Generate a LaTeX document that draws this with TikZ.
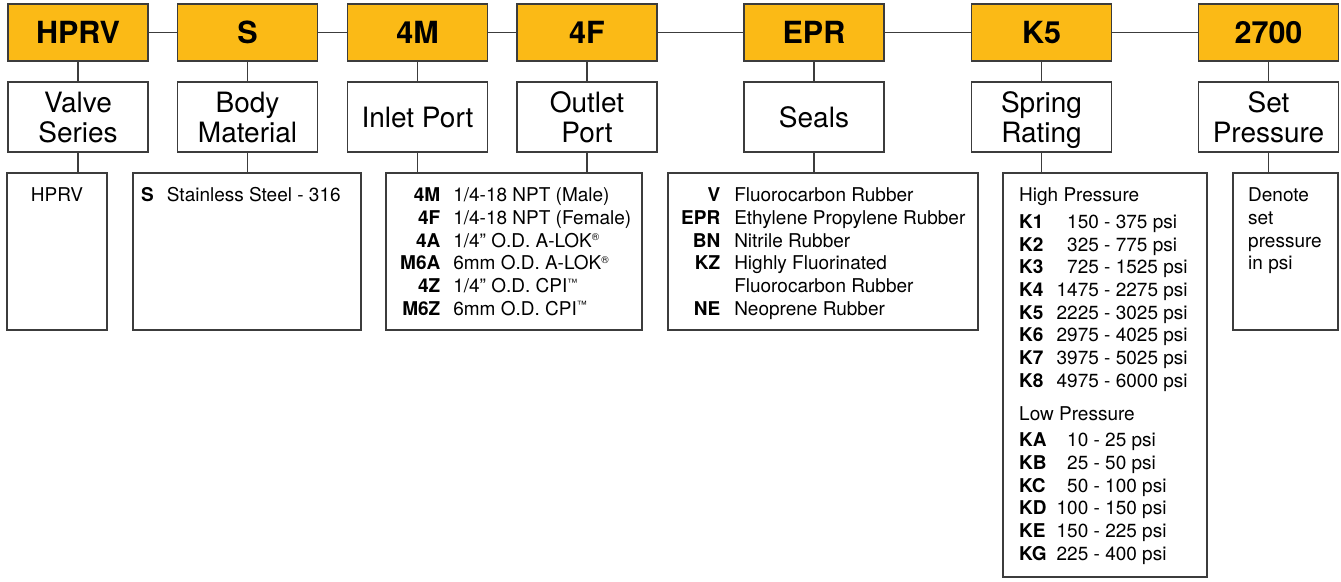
\documentclass[tikz,border=0pt]{standalone}
\usepackage{fontspec}
\setmainfont{TeX Gyre Heros}
\definecolor{partgold}{RGB}{251,186,22}
\definecolor{edgegray}{RGB}{60,60,60}
\newcommand{\tinymark}[1]{\raisebox{6.5pt}{\fontsize{10}{10}\selectfont#1}}

\begin{document}
\begin{tikzpicture}[x=1pt, y=-1pt,
                codebox/.style={draw=edgegray, line width=1.1pt, fill=partgold, minimum width=140pt, minimum height=57pt, inner sep=0pt, font=\fontsize{30.5}{31}\selectfont\bfseries},
                namebox/.style={draw=edgegray, line width=1.1pt, fill=white, minimum width=140pt, minimum height=70pt, inner sep=0pt, align=center, text depth=0pt, font=\fontsize{28}{30}\selectfont},
                listbox/.style={draw=edgegray, line width=1.1pt, inner sep=0pt},
                listtext/.style={inner sep=0pt, anchor=base west, font=\fontsize{19}{22.7}\selectfont},
                link/.style={draw=edgegray, line width=1.1pt}]
                \useasboundingbox (0,0) rectangle (1341,581);

                \node[codebox] (hprv) at (78,32.5) {HPRV};
                \node[codebox] (s) at (247.5,32.5) {S};
                \node[codebox] (inm) at (417.5,32.5) {4M};
                \node[codebox] (outf) at (587,32.5) {4F};
                \node[codebox] (epr) at (814,32.5) {EPR};
                \node[codebox] (k5) at (1041.5,32.5) {K5};
                \node[codebox] (setp) at (1268.5,32.5) {2700};

                \node[namebox] (series) at (78,117) {Valve\\Series};
                \node[namebox] (material) at (247.5,117) {Body\\Material};
                \node[namebox] (inlet) at (417.5,117) {Inlet Port};
                \node[namebox] (outlet) at (587,117) {Outlet\\Port};
                \node[namebox] (seals) at (814,117) {Seals};
                \node[namebox] (spring) at (1041.5,117) {Spring\\Rating};
                \node[namebox] (pressure) at (1268.5,117) {Set\\Pressure};

                \node[listbox, minimum width=100pt, minimum height=157pt] (serieslist) at (57,251.5) {};
                \node[listbox, minimum width=228pt, minimum height=157pt] (materiallist) at (247,251.5) {};
                \node[listbox, minimum width=256pt, minimum height=157pt] (portlist) at (514,251.5) {};
                \node[listbox, minimum width=310pt, minimum height=157pt] (seallist) at (823,251.5) {};
                \node[listbox, minimum width=204pt, minimum height=404pt] (springlist) at (1105,375) {};
                \node[listbox, minimum width=105pt, minimum height=157pt] (pressurelist) at (1285.5,251.5) {};

                \node[listtext, anchor=base] (seriestext) at (57,201.7) {HPRV};
                \node[listtext] (materialtext) at (141,201.7) {\begin{tabular}[t]{@{}r@{\hspace{13pt}}l@{}}
                    \textbf{S} & Stainless Steel - 316
                \end{tabular}};
                \node[listtext] (porttext) at (400,201.7) {\begin{tabular}[t]{@{}r@{\hspace{13pt}}l@{}}
                    \textbf{4M} & 1/4-18 NPT (Male)\\
                    \textbf{4F} & 1/4-18 NPT (Female)\\
                    \textbf{4A} & 1/4” O.D. A-LOK\tinymark{®}\\
                    \textbf{M6A} & 6mm O.D. A-LOK\tinymark{®}\\
                    \textbf{4Z} & 1/4” O.D. CPI\tinymark{™}\\
                    \textbf{M6Z} & 6mm O.D. CPI\tinymark{™}
                \end{tabular}};
                \node[listtext] (sealtext) at (681,201.7) {\begin{tabular}[t]{@{}r@{\hspace{14pt}}l@{}}
                    \textbf{V} & Fluorocarbon Rubber\\
                    \textbf{EPR} & Ethylene Propylene Rubber\\
                    \textbf{BN} & Nitrile Rubber\\
                    \textbf{KZ} & Highly Fluorinated\\
                    & Fluorocarbon Rubber\\
                    \textbf{NE} & Neoprene Rubber
                \end{tabular}};
                \node[listtext] (springtext) at (1019,201.7) {\begin{tabular}[t]{@{}l@{\hspace{10pt}}l@{}}
                    \multicolumn{2}{@{}l@{}}{High Pressure}\\[4pt]
                    \textbf{K1} & \hphantom{0}150 - 375 psi\\
                    \textbf{K2} & \hphantom{0}325 - 775 psi\\
                    \textbf{K3} & \hphantom{0}725 - 1525 psi\\
                    \textbf{K4} & 1475 - 2275 psi\\
                    \textbf{K5} & 2225 - 3025 psi\\
                    \textbf{K6} & 2975 - 4025 psi\\
                    \textbf{K7} & 3975 - 5025 psi\\
                    \textbf{K8} & 4975 - 6000 psi\\[10pt]
                    \multicolumn{2}{@{}l@{}}{Low Pressure}\\[4pt]
                    \textbf{KA} & \hphantom{0}10 - 25 psi\\
                    \textbf{KB} & \hphantom{0}25 - 50 psi\\
                    \textbf{KC} & \hphantom{0}50 - 100 psi\\
                    \textbf{KD} & 100 - 150 psi\\
                    \textbf{KE} & 150 - 225 psi\\
                    \textbf{KG} & 225 - 400 psi
                \end{tabular}};
                \node[listtext] (pressuretext) at (1248,201.7) {\begin{tabular}[t]{@{}l@{}}
                    Denote\\
                    set\\
                    pressure\\
                    in psi
                \end{tabular}};

                \draw[link] (hprv) -- (s);
                \draw[link] (s) -- (inm);
                \draw[link] (inm) -- (outf);
                \draw[link] (outf) -- (epr);
                \draw[link] (epr) -- (k5);
                \draw[link] (k5) -- (setp);
                \draw[link] (hprv) -- (series);
                \draw[link] (s) -- (material);
                \draw[link] (inm) -- (inlet);
                \draw[link] (outf) -- (outlet);
                \draw[link] (epr) -- (seals);
                \draw[link] (k5) -- (spring);
                \draw[link] (setp) -- (pressure);
                \draw[link] (series) -- (series |- serieslist.north);
                \draw[link] (material) -- (material |- materiallist.north);
                \draw[link] (inlet) -- (inlet |- portlist.north);
                \draw[link] (outlet) -- (outlet |- portlist.north);
                \draw[link] (seals) -- (seals |- seallist.north);
                \draw[link] (spring) -- (spring |- springlist.north);
                \draw[link] (pressure) -- (pressure |- pressurelist.north);
            \end{tikzpicture}
\end{document}
